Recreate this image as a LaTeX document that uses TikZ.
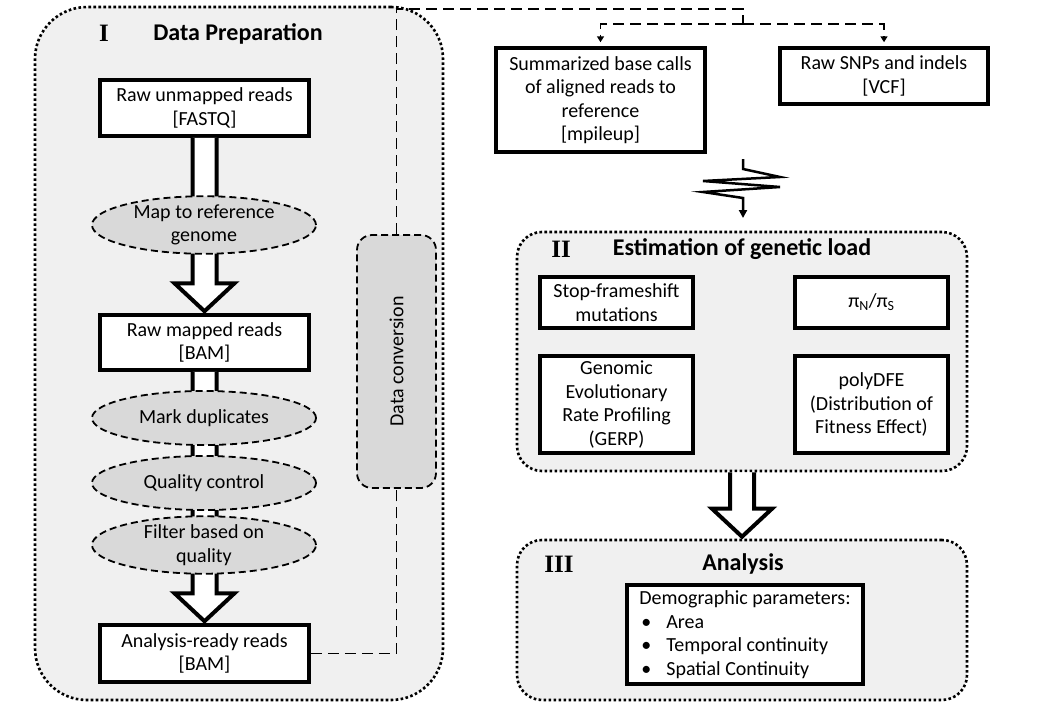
\documentclass[tikz,border=0pt]{standalone}
\usepackage{fontspec}
\setmainfont{Carlito}
\newfontfamily\romanfont{Liberation Serif}
\usepackage{graphicx}
\usepackage{tikz}
\usetikzlibrary{shapes.geometric,arrows.meta,calc}

\definecolor{panelgray}{gray}{0.94}
\definecolor{stepgray}{gray}{0.85}

% hollow block arrow from the bottom of #1 to the top of #2
\newcommand{\fatarrow}[2]{%
  \draw[fat] let \p1=(#1.south), \p2=(#2.north) in
    (\x1-12pt,\y1) -- (\x1-12pt,\y2+30pt) -- (\x1-30pt,\y2+30pt) -- (\x1,\y2+2pt)
    -- (\x1+30pt,\y2+30pt) -- (\x1+12pt,\y2+30pt) -- (\x1+12pt,\y1);}

\begin{document}
\begin{tikzpicture}[x=1pt,y=-1pt,
  font=\fontsize{20}{23.5}\selectfont,
  panel/.style={rectangle,draw,fill=panelgray,line width=2.6pt,
    dash pattern=on 2.6pt off 2.4pt,rounded corners=25pt,inner sep=0pt},
  box/.style={rectangle,draw,fill=white,line width=3.5pt,align=center,inner sep=0pt},
  stepnode/.style={ellipse,draw,fill=stepgray,line width=1.8pt,
    dash pattern=on 7pt off 4pt,align=center,minimum width=224pt,
    minimum height=54pt,inner sep=0pt},
  convbox/.style={rectangle,draw,fill=stepgray,line width=1.8pt,
    dash pattern=on 7pt off 4pt,rounded corners=15pt,inner sep=0pt},
  link/.style={line width=1.8pt,dash pattern=on 11pt off 6pt},
  tip/.style={-{Triangle[width=7pt,length=6pt]},shorten >=4pt},
  fat/.style={line width=4pt,fill=white,miter limit=10},
  title/.style={font=\fontsize{24}{28}\selectfont\bfseries},
  numeral/.style={font={\romanfont\bfseries\fontsize{25}{29}\selectfont}}]
  \useasboundingbox (0,0) rectangle (1040,720);

  % Panels
  \node[panel,rounded corners=52pt,minimum width=408pt,minimum height=693pt] (prep) at (239,353.5) {};
  \node[panel,minimum width=450pt,minimum height=239pt] (estim) at (742,351.5) {};
  \node[panel,minimum width=450pt,minimum height=160pt] (analysis) at (742,620) {};

  % Headings
  \node[numeral] (num1) at (104,33) {I};
  \node[title] (head1) at (238,34) {Data Preparation};
  \node[numeral] (num2) at (561,249) {II};
  \node[title] (head2) at (742,249) {Estimation of genetic load};
  \node[numeral] (num3) at (559,564) {III};
  \node[title] (head3) at (743,564) {Analysis};

  % Data preparation
  \node[box,minimum width=209pt,minimum height=56pt] (fastq) at (204.5,108) {Raw unmapped reads\\{}[FASTQ]};
  \node[box,minimum width=209pt,minimum height=55pt] (bam) at (204.5,342.5) {Raw mapped reads\\{}[BAM]};
  \node[box,minimum width=209pt,minimum height=57pt] (ready) at (204.5,653.5) {Analysis-ready reads\\{}[BAM]};
  \fatarrow{fastq}{bam}
  \fatarrow{bam}{ready}
  \node[stepnode] (map) at (204,225) {Map to reference\\genome};
  \node[stepnode] (dup) at (204,418) {Mark duplicates};
  \node[stepnode] (qc) at (204,483) {Quality control};
  \node[stepnode] (filt) at (204,545) {Filter based on\\quality};
  \node[convbox,minimum width=79pt,minimum height=253pt] (conv) at (396.5,361.5) {\rotatebox{90}{Data conversion}};

  % Converted data
  \node[box,minimum width=209pt,minimum height=104pt] (pileup) at (600.5,100) {Summarized base calls\\of aligned reads to\\reference\\{}[mpileup]};
  \node[box,minimum width=208pt,minimum height=56pt] (vcf) at (884,76) {Raw SNPs and indels\\{}[VCF]};
  \coordinate (bend) at (743,9);
  \coordinate (fork) at (743,24);
  \draw[link] (ready.east) -| (conv.south);
  \draw[link] (conv.north) |- (bend) -- (fork);
  \draw[link,tip] (fork) -| (pileup.north);
  \draw[link,tip] (fork) -| (vcf.north);
  \coordinate (zig) at (743,159);
  \draw[line width=2.5pt,-{Triangle[width=8pt,length=8pt]}] (zig) -- ++(0,10) -- ++(37,8)
    -- ++(-77,4) -- ++(77,6) -- ++(-77,5) -- ++(40,6) -- ++(0,20);

  % Genetic load
  \node[box,minimum width=153pt,minimum height=51pt] (stop) at (616.5,302.5) {Stop-frameshift\\mutations};
  \node[box,minimum width=153pt,minimum height=51pt] (piratio) at (871.5,302.5) {π\textsubscript{N}/π\textsubscript{S}};
  \node[box,minimum width=153pt,minimum height=97pt] (gerp) at (616.5,404.5) {Genomic\\Evolutionary\\Rate Profiling\\(GERP)};
  \node[box,minimum width=153pt,minimum height=97pt] (dfe) at (871.5,404.5) {polyDFE\\(Distribution of\\Fitness Effect)};
  \fatarrow{estim}{analysis}

  % Analysis
  \node[box,align=left,minimum width=236pt,minimum height=99pt] (demo) at (745,634.5)
    {Demographic parameters:\\
     \makebox[27pt][l]{\hspace{2pt}\textbullet}Area\\
     \makebox[27pt][l]{\hspace{2pt}\textbullet}Temporal continuity\\
     \makebox[27pt][l]{\hspace{2pt}\textbullet}Spatial Continuity};
\end{tikzpicture}
\end{document}
